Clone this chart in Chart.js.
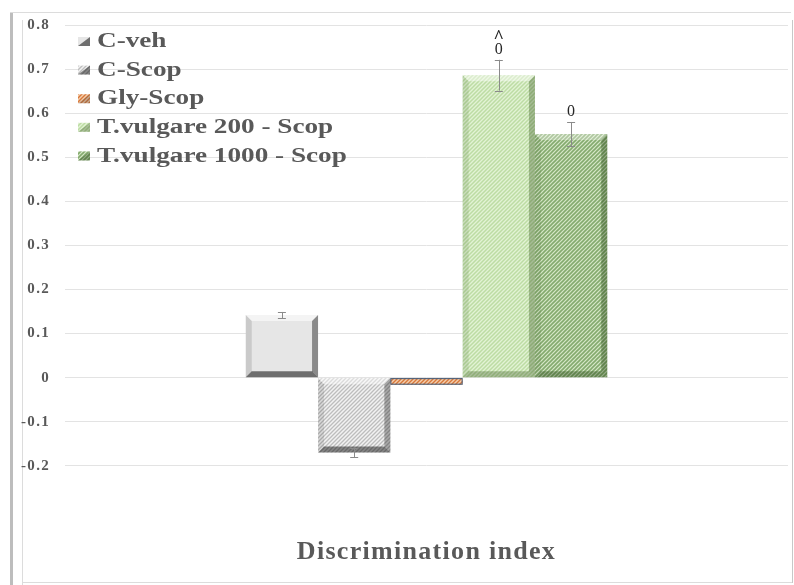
<!DOCTYPE html>
<html>
<head>
<meta charset="utf-8">
<script src="https://cdn.jsdelivr.net/npm/chart.js@4/dist/chart.umd.min.js"></script>
<style>
  html, body { margin: 0; padding: 0; background: #fff; }
  #wrap { width: 794px; height: 585px; }
</style>
</head>
<body>
<div id="wrap"><canvas id="c" width="794" height="585"></canvas></div>
<script>
// ---- data ----
const categories = ['Discrimination index'];
const groups = ['C-veh', 'C-Scop', 'Gly-Scop', 'T.vulgare 200 - Scop', 'T.vulgare 1000 - Scop'];
const means = [0.142, -0.170, -0.016, 0.686, 0.553];
const errors = [0.007, 0.010, 0.002, 0.035, 0.027];
const marks = [[], [], [], ['^', '0'], ['0']];
const yTicks = [-0.2, -0.1, 0, 0.1, 0.2, 0.3, 0.4, 0.5, 0.6, 0.7, 0.8];

// ---- look ----
const TEXT = '#595959';
const SERIF = '"Liberation Serif", "Times New Roman", serif';
const canvas = document.getElementById('c');
const ctx0 = canvas.getContext('2d');

// diagonal "////" hatch
function hatch(bg, fg, size, lw) {
  const c = document.createElement('canvas');
  c.width = size; c.height = size;
  const g = c.getContext('2d');
  g.fillStyle = bg; g.fillRect(0, 0, size, size);
  g.strokeStyle = fg; g.lineWidth = lw; g.lineCap = 'square';
  g.beginPath();
  g.moveTo(0, size); g.lineTo(size, 0);
  g.moveTo(-1, 1); g.lineTo(1, -1);
  g.moveTo(size - 1, size + 1); g.lineTo(size + 1, size - 1);
  g.stroke();
  return ctx0.createPattern(c, 'repeat');
}

const styles = [
  { fill: '#e6e6e6', top: 'rgba(255,255,255,0.55)', left: 'rgba(0,0,0,0.12)', right: 'rgba(0,0,0,0.40)', bottom: 'rgba(0,0,0,0.52)', border: null },
  { fill: hatch('#f2f2f2', '#bdbdbd', 4, 1.3), top: 'rgba(255,255,255,0.45)', left: 'rgba(0,0,0,0.10)', right: 'rgba(0,0,0,0.30)', bottom: 'rgba(0,0,0,0.45)', border: null },
  { fill: hatch('#f4cfae', '#d9783a', 4, 1.4), top: null, left: null, right: null, bottom: null, border: '#3f5878' },
  { fill: hatch('#e2f3d4', '#bddca4', 4, 1.5), top: 'rgba(255,255,255,0.45)', left: 'rgba(60,90,40,0.14)', right: 'rgba(40,70,20,0.32)', bottom: 'rgba(40,70,20,0.30)', border: null },
  { fill: hatch('#d6e7c7', '#84aa6e', 4, 1.6), top: 'rgba(255,255,255,0.35)', left: 'rgba(40,70,20,0.10)', right: 'rgba(30,60,15,0.35)', bottom: 'rgba(30,60,15,0.35)', border: null }
];

function barBox(el) {
  const p = el.getProps(['x', 'y', 'base', 'width'], true);
  return {
    l: p.x - p.width / 2, r: p.x + p.width / 2,
    t: Math.min(p.y, p.base), b: Math.max(p.y, p.base), cx: p.x
  };
}

function poly(ctx, pts, color) {
  ctx.fillStyle = color;
  ctx.beginPath();
  ctx.moveTo(pts[0][0], pts[0][1]);
  for (let i = 1; i < pts.length; i++) ctx.lineTo(pts[i][0], pts[i][1]);
  ctx.closePath();
  ctx.fill();
}

// page frame + white background; slightly wider tracking for the axis text
const framePlugin = {
  id: 'frame',
  beforeDraw(chart) {
    const ctx = chart.ctx;
    ctx.save();
    ctx.fillStyle = '#fff';
    ctx.fillRect(0, 0, chart.width, chart.height);
    ctx.fillStyle = '#bdbdbd';
    ctx.fillRect(10, 12, 3, chart.height - 12);
    ctx.fillStyle = '#dcdcdc';
    ctx.fillRect(10, 12, 781, 1);
    ctx.fillRect(22, 20, 1, chart.height - 20);
    ctx.fillRect(22, 582, 770, 1);
    ctx.fillStyle = '#c8c8c8';
    ctx.fillRect(792, 20, 1, 563);
    ctx.restore();
    ctx.letterSpacing = '1.3px';
  },
  beforeDatasetsDraw(chart) {
    chart.ctx.letterSpacing = '0px';
  }
};

// bevelled edges on each bar
const bevelPlugin = {
  id: 'bevel',
  afterDatasetsDraw(chart) {
    const ctx = chart.ctx;
    ctx.save();
    chart.data.datasets.forEach((ds, i) => {
      const st = styles[i];
      chart.getDatasetMeta(i).data.forEach(el => {
        const { l, r, t, b } = barBox(el);
        const h = b - t;
        if (st.border) {
          ctx.strokeStyle = st.border; ctx.lineWidth = 1;
          ctx.strokeRect(l + 0.5, t + 0.5, r - l - 1, h - 1);
          return;
        }
        const k = Math.min(6, h / 2);
        poly(ctx, [[l, t], [r, t], [r - k, t + k], [l + k, t + k]], st.top);
        poly(ctx, [[l, t], [l + k, t + k], [l + k, b - k], [l, b]], st.left);
        poly(ctx, [[r, t], [r, b], [r - k, b - k], [r - k, t + k]], st.right);
        poly(ctx, [[l, b], [l + k, b - k], [r - k, b - k], [r, b]], st.bottom);
      });
    });
    ctx.restore();
  }
};

// error bars and significance marks
const errorPlugin = {
  id: 'errors',
  afterDatasetsDraw(chart) {
    const ctx = chart.ctx;
    const ys = chart.scales.y;
    ctx.save();
    chart.data.datasets.forEach((ds, i) => {
      chart.getDatasetMeta(i).data.forEach((el, j) => {
        const { cx } = barBox(el);
        const v = ds.data[j];
        const e = errors[i];
        const yHi = ys.getPixelForValue(v + e);
        const yLo = ys.getPixelForValue(v - e);
        if (i !== 2) {
          ctx.strokeStyle = '#8a8a8a'; ctx.lineWidth = 1;
          ctx.beginPath();
          ctx.moveTo(Math.round(cx) + 0.5, yHi); ctx.lineTo(Math.round(cx) + 0.5, yLo);
          ctx.moveTo(cx - 4, Math.round(yHi) + 0.5); ctx.lineTo(cx + 4, Math.round(yHi) + 0.5);
          ctx.moveTo(cx - 4, Math.round(yLo) + 0.5); ctx.lineTo(cx + 4, Math.round(yLo) + 0.5);
          ctx.stroke();
        }
        const lines = marks[i];
        if (lines.length) {
          ctx.fillStyle = '#262626';
          ctx.textAlign = 'center';
          ctx.textBaseline = 'alphabetic';
          let base = Math.min(yHi, yLo) - 6;
          for (let n = lines.length - 1; n >= 0; n--) {
            const isCaret = lines[n] === '^';
            ctx.font = (isCaret ? 'bold 18px ' : '16px ') + SERIF;
            ctx.fillText(lines[n], cx, isCaret ? base + 3 : base);
            base -= 14;
          }
        }
      });
    });
    ctx.restore();
  }
};

// legend inside the plot, top-left
const legendPlugin = {
  id: 'insideLegend',
  afterDraw(chart) {
    const ctx = chart.ctx;
    ctx.save();
    ctx.letterSpacing = '0px';
    groups.forEach((name, i) => {
      const yc = 41 + i * 28.6;
      const st = styles[i];
      ctx.fillStyle = st.fill;
      ctx.fillRect(78, yc - 4, 12, 9);
      ctx.fillStyle = st.border ? 'rgba(60,60,60,0.25)' : (st.bottom || 'rgba(0,0,0,0.3)');
      ctx.beginPath();
      ctx.moveTo(90, yc - 4); ctx.lineTo(90, yc + 5); ctx.lineTo(78, yc + 5);
      ctx.closePath(); ctx.fill();
      ctx.translate(97, yc);
      ctx.scale(1.36, 1);
      ctx.fillStyle = TEXT;
      ctx.font = 'bold 20px ' + SERIF;
      ctx.textBaseline = 'middle';
      ctx.textAlign = 'left';
      ctx.fillText(name, 0, 1);
      ctx.setTransform(1, 0, 0, 1, 0, 0);
    });
    ctx.restore();
  }
};

new Chart(canvas, {
  type: 'bar',
  data: {
    labels: categories,
    datasets: groups.map((g, i) => ({
      label: g,
      data: [means[i]],
      backgroundColor: styles[i].fill,
      borderWidth: 0
    }))
  },
  options: {
    responsive: false,
    animation: false,
    devicePixelRatio: 1,
    layout: { padding: { top: 25, right: 6, bottom: 17, left: 0 } },
    datasets: { bar: { categoryPercentage: 0.5, barPercentage: 1.0 } },
    plugins: { legend: { display: false }, tooltip: { enabled: false } },
    scales: {
      x: {
        grid: { display: false },
        border: { display: false },
        ticks: { display: false },
        title: {
          display: true,
          text: categories[0],
          color: TEXT,
          font: { family: SERIF, size: 26, weight: 'bold' },
          padding: { top: 63, bottom: 0 }
        }
      },
      y: {
        min: yTicks[0],
        max: yTicks[yTicks.length - 1],
        afterBuildTicks(scale) { scale.ticks = yTicks.map(v => ({ value: v })); },
        afterFit(scale) { scale.width = 65; },
        grid: { color: '#e3e3e3', lineWidth: 1, drawTicks: false },
        border: { display: false },
        ticks: {
          padding: 15,
          color: TEXT,
          font: { family: SERIF, size: 15, weight: 'bold' },
          callback: v => (Math.abs(v) < 1e-9 ? '0' : Number(v).toFixed(1))
        }
      }
    }
  },
  plugins: [framePlugin, bevelPlugin, errorPlugin, legendPlugin]
});
</script>
</body>
</html>
